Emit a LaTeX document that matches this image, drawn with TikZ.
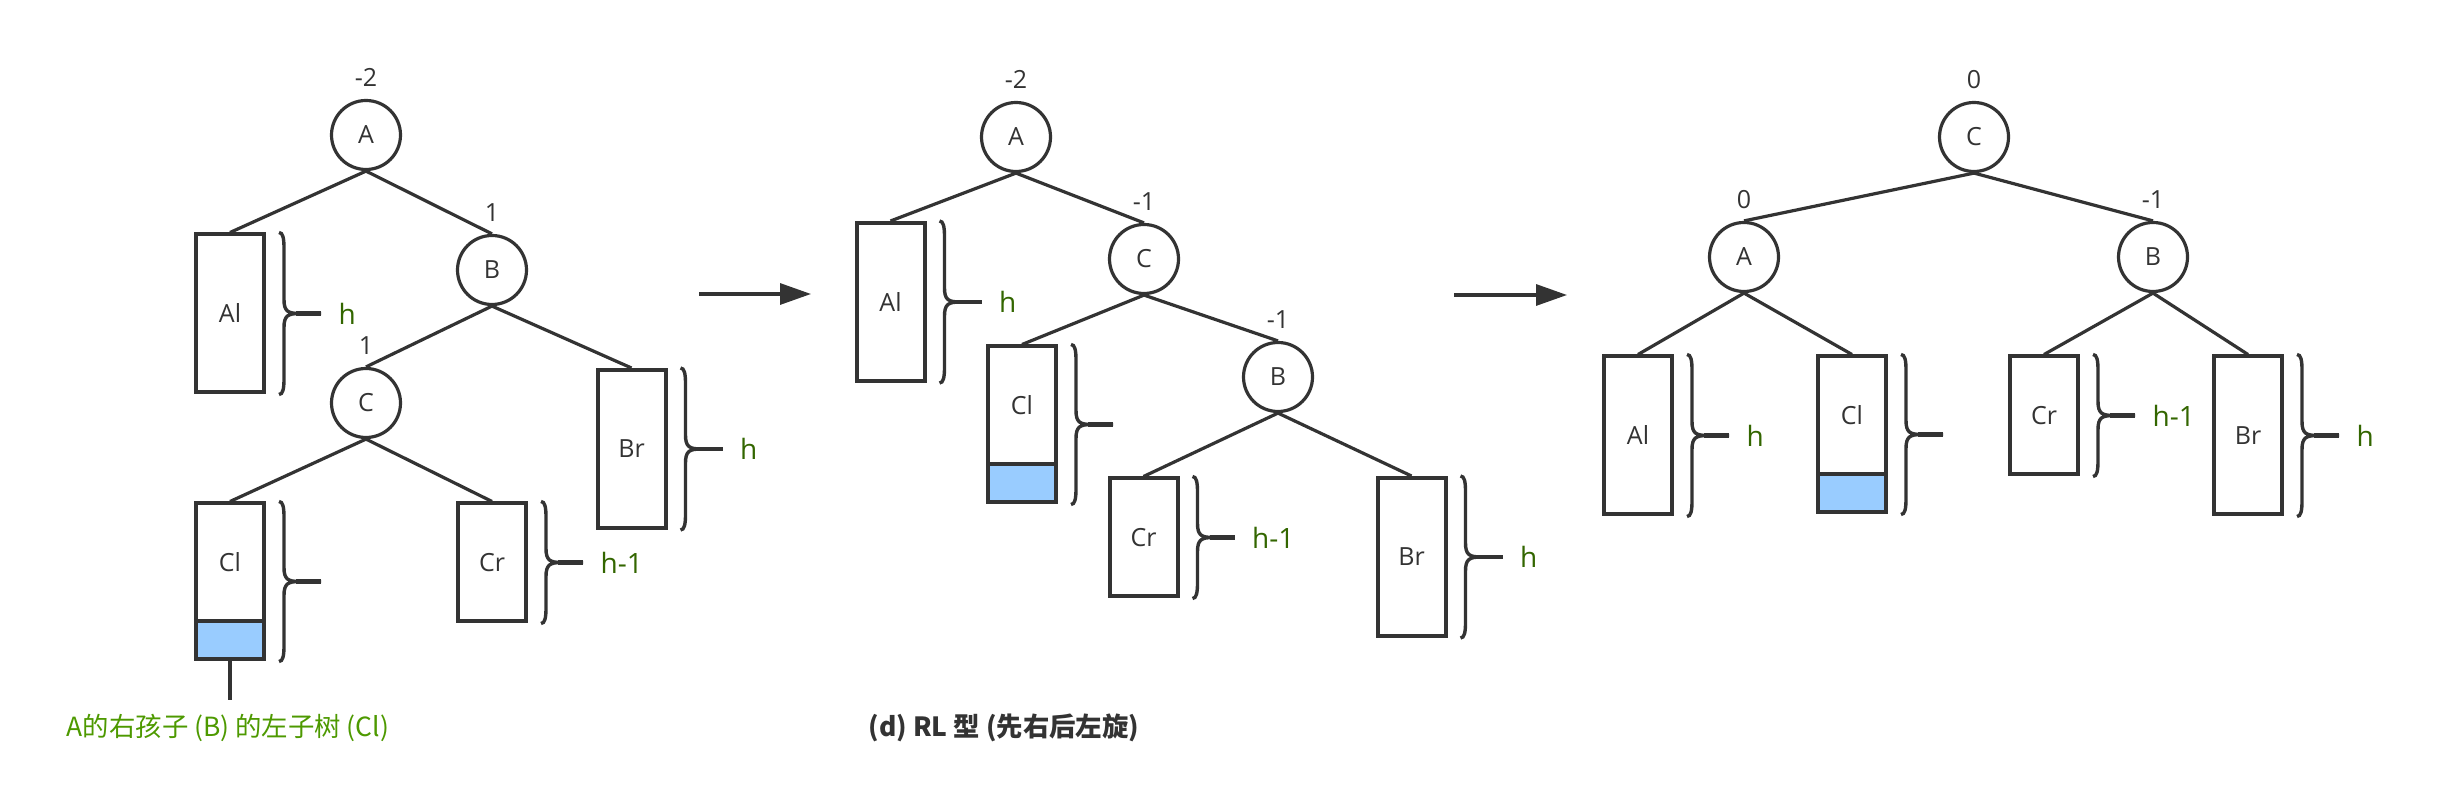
\documentclass[tikz,border=0pt]{standalone}
\usepackage{fontspec}
\setmainfont{Open Sans}
\newfontfamily\cjk{Noto Sans CJK SC}
\usetikzlibrary{positioning,calc,arrows.meta}
\definecolor{ink}{HTML}{333333}
\definecolor{hgreen}{HTML}{336600}
\definecolor{capgreen}{HTML}{4D9900}
\definecolor{subblue}{HTML}{99CCFF}
\newcommand\sidebrace[3]{%
	\draw[brc] let \p1=(#1), \p2=(#2), \p3=($(#1)!0.5!(#2)$) in
		(\x1+6.5pt,\y1) .. controls (\x1+8.5pt,\y1) and (\x1+9pt,\y1-3pt) .. (\x1+9pt,\y1-8pt)
		-- (\x1+9pt,\y3+7pt) .. controls (\x1+9pt,\y3+1pt) and (\x1+11pt,\y3) .. (\x1+17pt,\y3)
		-- (\x1+27.5pt,\y3) node[hlabel] {#3}
		(\x1+17pt,\y3) .. controls (\x1+11pt,\y3) and (\x1+9pt,\y3-1pt) .. (\x1+9pt,\y3-7pt)
		-- (\x1+9pt,\y2+8pt) .. controls (\x1+9pt,\y2+3pt) and (\x1+8.5pt,\y2) .. (\x1+6.5pt,\y2)
		(\x1+15pt,\y3) edge[line width=2.2pt] (\x1+27.5pt,\y3);}
\begin{document}
\begin{tikzpicture}[x=0.5pt,y=-0.5pt,
		every node/.style={font=\fontsize{12.5pt}{15pt}\selectfont, text=ink},
		vert/.style={circle, draw=ink, line width=1.6pt, minimum size=34.5pt, inner sep=0pt},
		box/.style={rectangle, draw=ink, line width=2pt, fill=white, minimum width=34pt, inner sep=0pt},
		tall/.style={box, minimum height=79pt},
		short/.style={box, minimum height=59pt},
		sub/.style={box, fill=subblue, minimum height=19pt},
		bal/.style={inner sep=0pt},
		edge/.style={draw=ink, line width=1.6pt},
		brc/.style={draw=ink, line width=1.7pt},
		hlabel/.style={anchor=west, inner sep=0pt, xshift=8pt, text=hgreen, font=\fontsize{14pt}{17pt}\selectfont},
		step arrow/.style={draw=ink, line width=1.6pt, -{Triangle[length=15.5pt,width=10.5pt]}}]
	\useasboundingbox (0,0) rectangle (2447,801);
	% tree 1
	\node[vert] (A1) at (366,135) {A};
	\node[vert] (B1) at (492,270) {B};
	\node[vert] (C1) at (366,403) {C};
	\node[bal, above=6pt of A1] (bA1) {-2};
	\node[bal, above=6pt of B1] (bB1) {1};
	\node[bal, above=6pt of C1] (bC1) {1};
	\node[tall] (Al1) at (230,313.5) {Al};
	\node[tall] (Br1) at (631.5,449) {Br};
	\node[short] (Cl1) at (230,562.5) {Cl};
	\node[sub, below=-2pt of Cl1] (Cl1b) {};
	\node[short] (Cr1) at (492,562.5) {Cr};
	\draw[edge] (A1.south) -- (Al1.north);
	\draw[edge] (A1.south) -- (B1.north);
	\draw[edge] (B1.south) -- (C1.north);
	\draw[edge] (B1.south) -- (Br1.north);
	\draw[edge] (C1.south) -- (Cl1.north);
	\draw[edge] (C1.south) -- (Cr1.north);
	\sidebrace{Al1.north east}{Al1.south east}{h}
	\sidebrace{Br1.north east}{Br1.south east}{h}
	\sidebrace{Cl1.north east}{Cl1b.south east}{}
	\sidebrace{Cr1.north east}{Cr1.south east}{h-1}
	\coordinate (tag) at (230,700);
	\draw[edge] (Cl1b.south) -- (tag);
	\node[text=capgreen, font=\cjk\fontsize{13.2pt}{16pt}\selectfont] (cap) at (228,728) {A的右孩子 (B) 的左子树 (Cl)};
	% arrows
	\coordinate (s1) at (699,294);
	\coordinate (e1) at (811,294);
	\draw[step arrow] (s1) -- (e1);
	\coordinate (s2) at (1454,295);
	\coordinate (e2) at (1567,295);
	\draw[step arrow] (s2) -- (e2);
	% tree 2
	\node[vert] (A2) at (1016,137) {A};
	\node[vert] (C2) at (1144,259) {C};
	\node[vert] (B2) at (1278,377) {B};
	\node[bal, above=6pt of A2] (bA2) {-2};
	\node[bal, above=6pt of C2] (bC2) {-1};
	\node[bal, above=6pt of B2] (bB2) {-1};
	\node[tall] (Al2) at (890.5,302) {Al};
	\node[short] (Cl2) at (1022,405.5) {Cl};
	\node[sub, below=-2pt of Cl2] (Cl2b) {};
	\node[short] (Cr2) at (1143.5,537.5) {Cr};
	\node[tall] (Br2) at (1411.5,557) {Br};
	\draw[edge] (A2.south) -- (Al2.north);
	\draw[edge] (A2.south) -- (C2.north);
	\draw[edge] (C2.south) -- (Cl2.north);
	\draw[edge] (C2.south) -- (B2.north);
	\draw[edge] (B2.south) -- (Cr2.north);
	\draw[edge] (B2.south) -- (Br2.north);
	\sidebrace{Al2.north east}{Al2.south east}{h}
	\sidebrace{Cl2.north east}{Cl2b.south east}{}
	\sidebrace{Cr2.north east}{Cr2.south east}{h-1}
	\sidebrace{Br2.north east}{Br2.south east}{h}
	\node[font=\cjk\bfseries\fontsize{13.2pt}{16pt}\selectfont] (title) at (1004,728) {(d) RL 型 (先右后左旋)};
	% tree 3
	\node[vert] (C3) at (1974,137) {C};
	\node[vert] (A3) at (1744,257) {A};
	\node[vert] (B3) at (2153,257) {B};
	\node[bal, above=6pt of C3] (bC3) {0};
	\node[bal, above=6pt of A3] (bA3) {0};
	\node[bal, above=6pt of B3] (bB3) {-1};
	\node[tall] (Al3) at (1638,435.5) {Al};
	\node[short] (Cl3) at (1852,415.5) {Cl};
	\node[sub, below=-2pt of Cl3] (Cl3b) {};
	\node[short] (Cr3) at (2044,415.5) {Cr};
	\node[tall] (Br3) at (2248,435.5) {Br};
	\draw[edge] (C3.south) -- (A3.north);
	\draw[edge] (C3.south) -- (B3.north);
	\draw[edge] (A3.south) -- (Al3.north);
	\draw[edge] (A3.south) -- (Cl3.north);
	\draw[edge] (B3.south) -- (Cr3.north);
	\draw[edge] (B3.south) -- (Br3.north);
	\sidebrace{Al3.north east}{Al3.south east}{h}
	\sidebrace{Cl3.north east}{Cl3b.south east}{}
	\sidebrace{Cr3.north east}{Cr3.south east}{h-1}
	\sidebrace{Br3.north east}{Br3.south east}{h}
\end{tikzpicture}
\end{document}
